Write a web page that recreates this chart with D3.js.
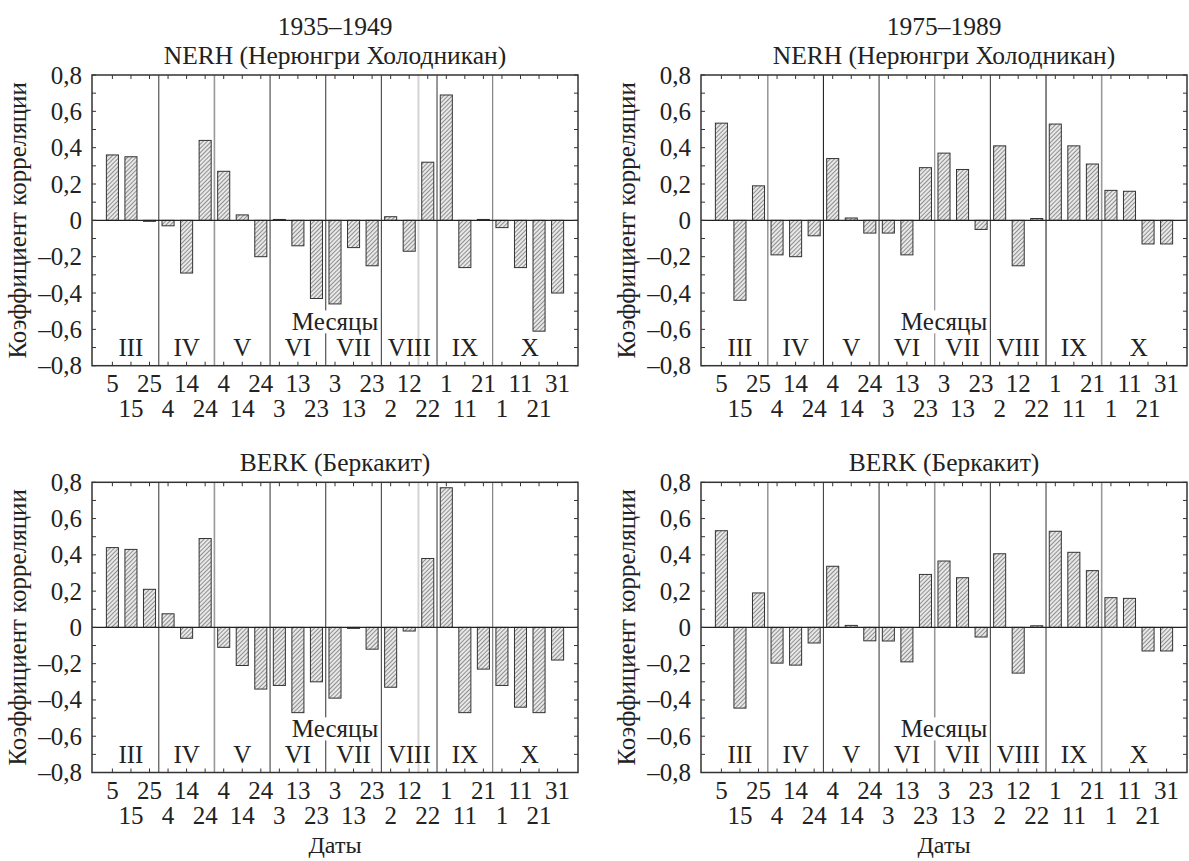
<!DOCTYPE html>
<html>
<head>
<meta charset="utf-8">
<script src="https://cdn.jsdelivr.net/npm/d3@7"></script>
<style>
  html, body { margin: 0; padding: 0; background: #fff; }
  svg { display: block; }
</style>
</head>
<body>
<script>
// ---------------- DATA ----------------
const dates = ["5","15","25","4","14","24","4","14","24","3","13","23","3","13","23","2","12","22","1","11","21","1","11","21","31"];
const months = ["III","IV","V","VI","VII","VIII","IX","X"];
const monthSizes = [3,3,3,3,3,3,3,4];
const yTickValues = [0.8,0.6,0.4,0.2,0,-0.2,-0.4,-0.6,-0.8];
const periods = ["1935–1949","1975–1989"];
const stations = ["NERH (Нерюнгри Холодникан)","BERK (Беркакит)"];
const yTitle = "Коэффициент корреляции";
const monthsTitle = "Месяцы";
const xTitle = "Даты";

const nerh1935 = [0.36,0.35,-0.005,-0.03,-0.29,0.44,0.27,0.03,-0.20,0.005,-0.14,-0.43,-0.46,-0.15,-0.25,0.02,-0.17,0.32,0.69,-0.26,0.005,-0.04,-0.26,-0.61,-0.40];
const berk1935 = [0.44,0.43,0.21,0.075,-0.06,0.49,-0.11,-0.21,-0.34,-0.32,-0.47,-0.30,-0.39,-0.005,-0.12,-0.33,-0.02,0.38,0.77,-0.47,-0.23,-0.32,-0.44,-0.47,-0.18];
const nerh1975 = [0.535,-0.44,0.19,-0.19,-0.20,-0.085,0.34,0.013,-0.07,-0.07,-0.19,0.29,0.37,0.28,-0.05,0.41,-0.25,0.01,0.53,0.41,0.31,0.165,0.16,-0.13,-0.13];
const berk1975 = [0.533,-0.445,0.19,-0.197,-0.208,-0.086,0.337,0.011,-0.074,-0.075,-0.19,0.292,0.366,0.274,-0.053,0.406,-0.252,0.009,0.53,0.414,0.313,0.164,0.16,-0.13,-0.13];

// ---------------- DRAWING ----------------
const W = 1189, H = 861;
const FONT = "'Liberation Serif', 'Times New Roman', serif";
const svg = d3.select("body").append("svg").attr("width", W).attr("height", H)
  .style("font-family", FONT);

const defs = svg.append("defs");
const pat = defs.append("pattern").attr("id","hatch").attr("patternUnits","userSpaceOnUse")
  .attr("width",3).attr("height",3).attr("patternTransform","rotate(45)");
pat.append("rect").attr("width",3).attr("height",3).attr("fill","#e8e8e8");
pat.append("line").attr("x1",0).attr("y1",0).attr("x2",0).attr("y2",3)
  .attr("stroke","#5e5e5e").attr("stroke-width",1.3);

const fmt = v => v === 0 ? "0" : (v < 0 ? "–" : "") + Math.abs(v).toFixed(1).replace(".", ",");

function drawPanel(cfg) {
  const {values, x0, x1, y0, y1, titles, showXTitle, dividerColors, extraLine} = cfg;
  const g = svg.append("g");
  const x = d3.scaleBand().domain(d3.range(values.length)).range([x0, x1])
    .paddingInner(0.35).paddingOuter(0.775);
  const y = d3.scaleLinear().domain([-0.8, 0.8]).range([y1, y0]);
  const step = x.step();
  const bw = x.bandwidth();
  const cx = i => x(i) + bw / 2;

  const ends = d3.cumsum(monthSizes);
  const starts = ends.map((e, k) => e - monthSizes[k]);
  const boundX = i => cx(i) + step / 2; // right edge of slot i

  if (extraLine !== undefined) {
    g.append("line").attr("x1", boundX(extraLine)).attr("x2", boundX(extraLine))
      .attr("y1", y0).attr("y2", y1).attr("stroke", "#d4d4d4").attr("stroke-width", 2);
  }

  g.selectAll("line.div").data(ends.slice(0, -1)).join("line").attr("class","div")
    .attr("x1", e => boundX(e - 1)).attr("x2", e => boundX(e - 1))
    .attr("y1", y0).attr("y2", y1)
    .attr("stroke", (e, k) => dividerColors[k]).attr("stroke-width", (e,k)=> dividerColors[k] === "#999" ? 1.6 : 1.1);

  g.selectAll("rect.bar").data(values).join("rect").attr("class","bar")
    .attr("x", (d, i) => x(i))
    .attr("width", bw)
    .attr("y", d => y(Math.max(0, d)))
    .attr("height", d => Math.max(1, Math.abs(y(d) - y(0))))
    .attr("fill", "url(#hatch)")
    .attr("stroke", "#333").attr("stroke-width", 1);

  g.append("line").attr("x1", x0).attr("x2", x1).attr("y1", y(0)).attr("y2", y(0))
    .attr("stroke", "#222").attr("stroke-width", 1.3);

  const midX = (x0 + x1) / 2;
  const mt = g.append("text").attr("x", midX).attr("y", y(0) + 110)
    .attr("text-anchor", "middle").attr("font-size", 25).attr("fill", "#222").text(monthsTitle);
  const bb = mt.node().getBBox();
  g.insert("rect", function(){ return mt.node(); })
    .attr("x", bb.x - 1).attr("y", bb.y + 2).attr("width", bb.width + 2).attr("height", bb.height - 4)
    .attr("fill", "#fff");

  g.selectAll("text.month").data(months).join("text").attr("class","month")
    .attr("x", (m, k) => (boundX(starts[k]) - step + boundX(ends[k] - 1)) / 2)
    .attr("y", y(0) + 136)
    .attr("text-anchor", "middle").attr("font-size", 25).attr("fill", "#222").text(m => m);

  g.append("rect").attr("x", x0).attr("y", y0).attr("width", x1 - x0).attr("height", y1 - y0)
    .attr("fill", "none").attr("stroke", "#333").attr("stroke-width", 1.5);

  const minor = d3.range(-8, 9).map(k => k / 10);
  g.selectAll("line.ytl").data(minor).join("line").attr("class","ytl")
    .attr("x1", x0).attr("x2", x0 + 4).attr("y1", d => y(d)).attr("y2", d => y(d))
    .attr("stroke", "#333");
  g.selectAll("line.ytr").data(minor).join("line").attr("class","ytr")
    .attr("x1", x1 - 4).attr("x2", x1).attr("y1", d => y(d)).attr("y2", d => y(d))
    .attr("stroke", "#333");
  g.selectAll("line.xtb").data(d3.range(values.length)).join("line").attr("class","xtb")
    .attr("x1", cx).attr("x2", cx).attr("y1", y1 - 4).attr("y2", y1).attr("stroke", "#333");
  g.selectAll("line.xtt").data(d3.range(values.length)).join("line").attr("class","xtt")
    .attr("x1", cx).attr("x2", cx).attr("y1", y0).attr("y2", y0 + 4).attr("stroke", "#333");

  const ya = g.append("g").attr("transform", `translate(${x0},0)`)
    .call(d3.axisLeft(y).tickValues(yTickValues).tickFormat(fmt).tickSize(0).tickPadding(10));
  ya.select(".domain").remove();
  ya.selectAll("text").attr("font-size", 25).attr("font-family", FONT).attr("fill", "#222");

  const evens = d3.range(0, values.length, 2), odds = d3.range(1, values.length, 2);
  const xa1 = g.append("g").attr("transform", `translate(0,${y1})`)
    .call(d3.axisBottom(x).tickValues(evens).tickFormat(i => dates[i]).tickSize(0).tickPadding(9));
  const xa2 = g.append("g").attr("transform", `translate(0,${y1})`)
    .call(d3.axisBottom(x).tickValues(odds).tickFormat(i => dates[i]).tickSize(0).tickPadding(34));
  [xa1, xa2].forEach(a => {
    a.select(".domain").remove();
    a.selectAll("text").attr("font-size", 25).attr("font-family", FONT).attr("fill", "#222");
  });

  g.append("text").attr("transform", `translate(${x0 - 75},${(y0 + y1) / 2}) rotate(-90)`)
    .attr("dy", "0.35em")
    .attr("text-anchor", "middle").attr("font-size", 25).attr("fill", "#222").text(yTitle);

  // titles: stacked lines, bottom line just above the frame
  titles.forEach((t, k) => {
    g.append("text").attr("x", midX)
      .attr("y", y0 - 11 - (titles.length - 1 - k) * 29)
      .attr("text-anchor", "middle").attr("font-size", 25.5).attr("fill", "#222").text(t);
  });

  if (showXTitle) {
    g.append("text").attr("x", midX).attr("y", 853)
      .attr("text-anchor", "middle").attr("font-size", 24).attr("fill", "#222").text(xTitle);
  }
}

const L = [92, 578], R = [701, 1187];
const TOP = [75, 365.7], BOT = [482.3, 772.5];

drawPanel({values: nerh1935, x0: L[0], x1: L[1], y0: TOP[0], y1: TOP[1],
  titles: [periods[0], stations[0]], showXTitle: false,
  dividerColors: ["#444","#999","#444","#444","#444","#444","#777"], extraLine: 16});
drawPanel({values: nerh1975, x0: R[0], x1: R[1], y0: TOP[0], y1: TOP[1],
  titles: [periods[1], stations[0]], showXTitle: false,
  dividerColors: ["#999","#222","#444","#888","#444","#222","#999"]});
drawPanel({values: berk1935, x0: L[0], x1: L[1], y0: BOT[0], y1: BOT[1],
  titles: [stations[1]], showXTitle: true,
  dividerColors: ["#444","#999","#444","#444","#444","#444","#777"], extraLine: 16});
drawPanel({values: berk1975, x0: R[0], x1: R[1], y0: BOT[0], y1: BOT[1],
  titles: [stations[1]], showXTitle: true,
  dividerColors: ["#999","#444","#444","#999","#444","#444","#999"]});
</script>
</body>
</html>
